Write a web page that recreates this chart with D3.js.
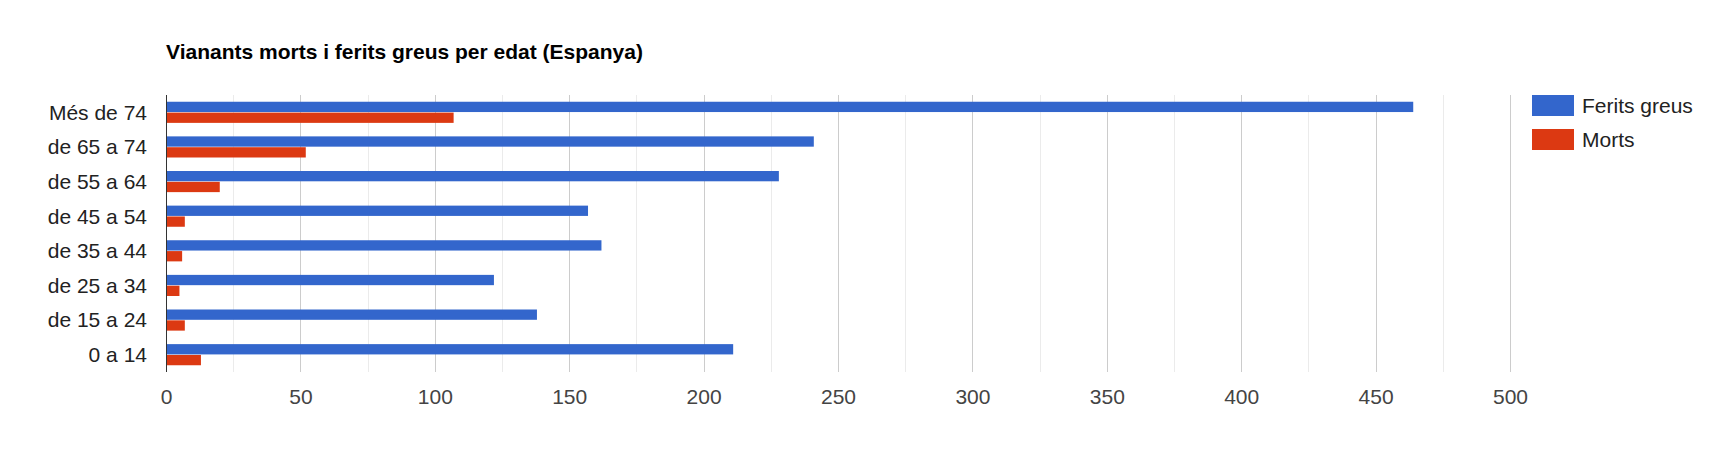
<!DOCTYPE html>
<html>
<head>
<meta charset="utf-8">
<script src="https://cdn.jsdelivr.net/npm/d3@7"></script>
<style>
  body { margin: 0; background: #fff; }
  svg text { font-family: Arial, "Liberation Sans", sans-serif; }
</style>
</head>
<body>
<div id="chart"></div>
<script>
// dades (llegides del gràfic)
const categories = ["Més de 74", "de 65 a 74", "de 55 a 64", "de 45 a 54", "de 35 a 44", "de 25 a 34", "de 15 a 24", "0 a 14"];
const feritsGreus = [464, 241, 228, 157, 162, 122, 138, 211];
const morts = [107, 52, 20, 7, 6, 5, 7, 13];
const seriesNames = ["Ferits greus", "Morts"];
const seriesColors = ["#3366cc", "#dc3912"];
const xTicks = [0, 50, 100, 150, 200, 250, 300, 350, 400, 450, 500];
const titleText = "Vianants morts i ferits greus per edat (Espanya)";

let width = 1728,
  height = 450;
// area del grafic
let plot = { left: 166, right: 1510, top: 95, bottom: 372 };

let svg = d3.select("#chart").append("svg")
  .attr("width", width)
  .attr("height", height);

let x = d3.scaleLinear()
  .domain([0, 500])
  .range([plot.left, plot.right]);

let y0 = d3.scaleBand()
  .domain(categories)
  .range([plot.top, plot.bottom])
  .paddingInner(0.39)
  .paddingOuter(0.195);

let y1 = d3.scaleBand()
  .domain(seriesNames)
  .range([0, y0.bandwidth()])
  .paddingInner(0.05);

// titol
svg.append("text")
  .attr("x", plot.left)
  .attr("y", 59)
  .attr("font-size", 21)
  .attr("font-weight", "bold")
  .attr("fill", "#000")
  .text(titleText);

// linies de fons: les menors a mig cami entre ticks, despres les de 50
let minorTicks = xTicks.slice(1).map((d, i) => (d + xTicks[i]) / 2);
let grid = svg.append("g");
grid.selectAll("line.minor")
  .data(minorTicks)
  .enter().append("line")
  .attr("class", "minor")
  .attr("x1", d => Math.round(x(d)) + 0.5)
  .attr("x2", d => Math.round(x(d)) + 0.5)
  .attr("y1", plot.top)
  .attr("y2", plot.bottom)
  .attr("stroke", "#ebebeb")
  .attr("stroke-width", 1);
grid.selectAll("line.major")
  .data(xTicks.filter(d => d !== 0))
  .enter().append("line")
  .attr("class", "major")
  .attr("x1", d => Math.round(x(d)) + 0.5)
  .attr("x2", d => Math.round(x(d)) + 0.5)
  .attr("y1", plot.top)
  .attr("y2", plot.bottom)
  .attr("stroke", "#cccccc")
  .attr("stroke-width", 1);

// barres
let rows = categories.map((c, i) => ({ cat: c, vals: [feritsGreus[i], morts[i]] }));
let groups = svg.append("g").selectAll("g")
  .data(rows)
  .enter().append("g")
  .attr("transform", d => `translate(0,${y0(d.cat)})`);
groups.selectAll("rect")
  .data(d => d.vals.map((v, k) => ({ key: seriesNames[k], v: v, k: k })))
  .enter().append("rect")
  .attr("x", x(0))
  .attr("y", d => y1(d.key))
  .attr("width", d => x(d.v) - x(0))
  .attr("height", y1.bandwidth())
  .attr("fill", d => seriesColors[d.k]);

// eix zero
svg.append("line")
  .attr("x1", Math.round(x(0)) + 0.5)
  .attr("x2", Math.round(x(0)) + 0.5)
  .attr("y1", plot.top)
  .attr("y2", plot.bottom)
  .attr("stroke", "#333")
  .attr("stroke-width", 1);

// eix x
let xAxis = svg.append("g")
  .attr("transform", `translate(0,${plot.bottom})`)
  .call(d3.axisBottom(x).tickValues(xTicks).tickSize(0).tickPadding(17));
xAxis.select(".domain").remove();
xAxis.selectAll("text")
  .attr("font-size", 21)
  .attr("font-family", "Arial, 'Liberation Sans', sans-serif")
  .attr("fill", "#444");

// etiquetes de categories
svg.append("g").selectAll("text")
  .data(categories)
  .enter().append("text")
  .attr("x", 147)
  .attr("y", d => y0(d) + y0.bandwidth() / 2)
  .attr("dy", "0.35em")
  .attr("text-anchor", "end")
  .attr("font-size", 21)
  .attr("fill", "#222")
  .text(d => d);

// llegenda
let legend = svg.append("g").selectAll("g")
  .data(seriesNames)
  .enter().append("g")
  .attr("transform", (d, i) => `translate(1532,${95 + i * 34})`);
legend.append("rect")
  .attr("width", 42)
  .attr("height", 21)
  .attr("fill", (d, i) => seriesColors[i]);
legend.append("text")
  .attr("x", 50)
  .attr("y", 10.5)
  .attr("dy", "0.35em")
  .attr("font-size", 21)
  .attr("fill", "#222")
  .text(d => d);
</script>
</body>
</html>
